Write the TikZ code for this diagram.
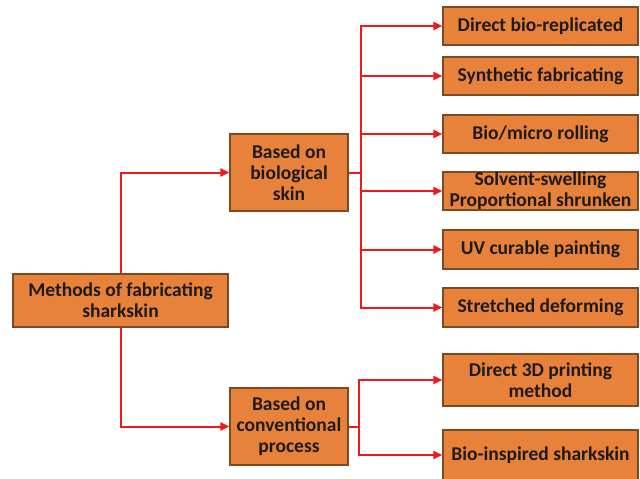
\documentclass[tikz,border=0pt]{standalone}
\usepackage{fontspec}
\setmainfont{Carlito}
\usetikzlibrary{arrows.meta}
\definecolor{boxfill}{HTML}{E8823A}
\definecolor{boxline}{HTML}{7A4A22}
\definecolor{arrred}{HTML}{F01818}
\definecolor{txt}{HTML}{1E1A18}
\tikzset{
  box/.style={draw=boxline, line width=1.2pt, fill=boxfill, inner sep=0pt,
    align=center, text=txt, font=\bfseries\fontsize{19.5}{21}\selectfont},
  conn/.style={draw=arrred, line width=2pt},
  arr/.style={conn, -{Triangle[length=9pt,width=8pt]}}
}
\begin{document}
\begin{tikzpicture}[x=1pt,y=-1pt]
\useasboundingbox (0,0) rectangle (640,479);
\node[box, minimum width=215pt, minimum height=53pt] (main) at (120.5,300.5) {Methods of fabricating\\sharkskin};
\node[box, minimum width=118pt, minimum height=77pt] (bio) at (289,172.5) {Based on\\biological\\skin};
\node[box, minimum width=118pt, minimum height=77pt] (conv) at (289,426.5) {Based on\\conventional\\process};
\node[box, minimum width=195pt, minimum height=38pt] (r1) at (540.5,26) {Direct bio-replicated};
\node[box, minimum width=195pt, minimum height=38pt] (r2) at (540.5,76) {Synthetic fabricating};
\node[box, minimum width=195pt, minimum height=38pt] (r3) at (540.5,134) {Bio/micro rolling};
\node[box, minimum width=195pt, minimum height=38pt] (r4) at (540.5,191) {Solvent-swelling\\Proportional shrunken};
\node[box, minimum width=195pt, minimum height=39pt] (r5) at (540.5,249.5) {UV curable painting};
\node[box, minimum width=195pt, minimum height=39pt] (r6) at (540.5,307.5) {Stretched deforming};
\node[box, minimum width=195pt, minimum height=52pt] (r7) at (540.5,380) {Direct 3D printing\\method};
\node[box, minimum width=195pt, minimum height=50pt] (r8) at (540.5,455) {Bio-inspired sharkskin};
\coordinate (busB) at (361,172.5);
\coordinate (busC) at (359,426.5);
\draw[arr] (main.north) |- (bio.west);
\draw[arr] (main.south) |- (conv.west);
\draw[conn] (bio.east) -- (busB);
\draw[conn] (conv.east) -- (busC);
\foreach \n in {r1,r2,r3,r4,r5,r6} \draw[arr] (busB) |- (\n.west);
\foreach \n in {r7,r8} \draw[arr] (busC) |- (\n.west);
\end{tikzpicture}
\end{document}
